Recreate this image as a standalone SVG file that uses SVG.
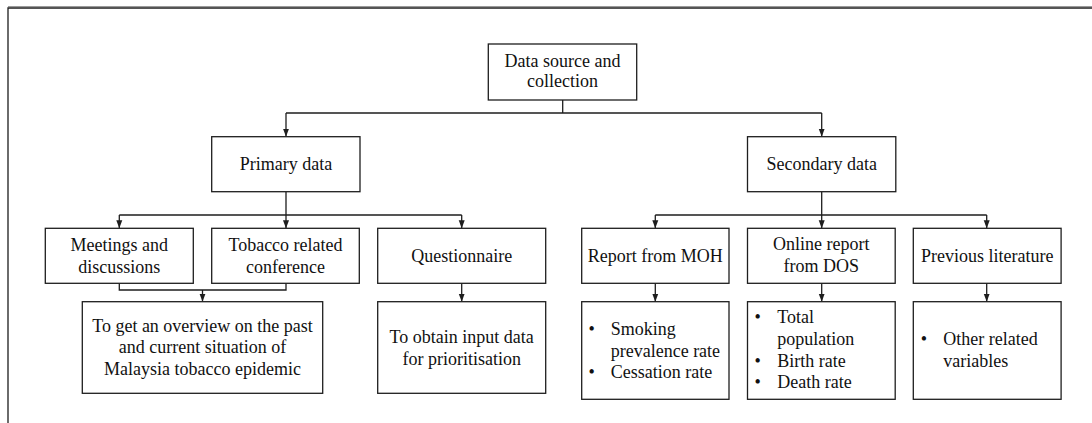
<svg xmlns="http://www.w3.org/2000/svg" width="1092" height="423" viewBox="0 0 1092 423">
  <style>
    .box { fill: #ffffff; stroke: #1e1e1e; stroke-width: 1.3; }
    .lbl { font-family: "Liberation Serif", "Times New Roman", serif; font-size: 18px; fill: #111111; }
    .c { text-anchor: middle; }
    .wire { fill: none; stroke: #1e1e1e; stroke-width: 1.3; }
    .arr { fill: none; stroke: #1e1e1e; stroke-width: 1.3; marker-end: url(#tip); }
  </style>
  <defs>
    <marker id="tip" markerUnits="userSpaceOnUse" markerWidth="8" markerHeight="8" viewBox="0 0 8 8" refX="8" refY="4" orient="auto">
      <path d="M0,1 L8,4 L0,7 Z" fill="#1e1e1e"/>
    </marker>
  </defs>
  <rect x="0" y="0" width="1092" height="423" fill="#ffffff"/>

  <!-- outer frame -->
  <g id="frame">
    <line x1="8" y1="6.5" x2="1092" y2="6.5" stroke="#9a9a9a" stroke-width="1"/>
    <path d="M8,423 V8 H1092" fill="none" stroke="#1e1e1e" stroke-width="1.3"/>
  </g>

  <!-- connectors -->
  <g id="connectors">
    <path class="wire" d="M562.7,100 V113 M286,113 H821.7"/>
    <path class="arr" d="M286,113 V136.7"/>
    <path class="arr" d="M821.7,113 V136.7"/>

    <path class="wire" d="M286,191.7 V215 M119.3,215 H461.7"/>
    <path class="arr" d="M119.3,215 V228.3"/>
    <path class="arr" d="M286,215 V228.3"/>
    <path class="arr" d="M461.7,215 V228.3"/>

    <path class="wire" d="M821.7,191.7 V215 M655.3,215 H986.7"/>
    <path class="arr" d="M655.3,215 V228.3"/>
    <path class="arr" d="M821.7,215 V228.3"/>
    <path class="arr" d="M986.7,215 V228.3"/>

    <path class="wire" d="M119.3,283.3 V290 H286 V283.3"/>
    <path class="arr" d="M202.5,290 V301.7"/>
    <path class="arr" d="M461.7,283.3 V301.7"/>
    <path class="arr" d="M655.3,283.3 V301.7"/>
    <path class="arr" d="M821.7,283.3 V301.7"/>
    <path class="arr" d="M986.7,283.3 V301.7"/>
  </g>

  <g id="root">
    <rect class="box" x="488.3" y="44" width="148.4" height="56"/>
    <text class="lbl c" x="562.5" y="66.7">Data source and</text>
    <text class="lbl c" x="562.5" y="87">collection</text>
  </g>

  <g id="primary">
    <rect class="box" x="211.7" y="136.7" width="148.3" height="55"/>
    <text class="lbl c" x="286" y="169.5">Primary data</text>
  </g>

  <g id="secondary">
    <rect class="box" x="747.5" y="136.7" width="148.3" height="55"/>
    <text class="lbl c" x="821.7" y="169.5">Secondary data</text>
  </g>

  <g id="meetings">
    <rect class="box" x="45.3" y="228.3" width="148" height="55"/>
    <text class="lbl c" x="119.3" y="251">Meetings and</text>
    <text class="lbl c" x="119.3" y="272.5">discussions</text>
  </g>

  <g id="conference">
    <rect class="box" x="211.7" y="228.3" width="147.6" height="55"/>
    <text class="lbl c" x="285.5" y="251">Tobacco related</text>
    <text class="lbl c" x="285.5" y="272.5">conference</text>
  </g>

  <g id="questionnaire">
    <rect class="box" x="377.7" y="228.3" width="168" height="55"/>
    <text class="lbl c" x="461.7" y="261.7">Questionnaire</text>
  </g>

  <g id="overview">
    <rect class="box" x="82.3" y="301.7" width="240.4" height="91.6"/>
    <text class="lbl c" x="202.5" y="331.7">To get an overview on the past</text>
    <text class="lbl c" x="202.5" y="353.3">and current situation of</text>
    <text class="lbl c" x="202.5" y="375">Malaysia tobacco epidemic</text>
  </g>

  <g id="input-data">
    <rect class="box" x="377.7" y="301.7" width="168" height="91.6"/>
    <text class="lbl c" x="461.7" y="343.3">To obtain input data</text>
    <text class="lbl c" x="461.7" y="365">for prioritisation</text>
  </g>

  <g id="moh">
    <rect class="box" x="581.7" y="228.3" width="147.3" height="55"/>
    <text class="lbl c" x="655.3" y="261.7">Report from MOH</text>
  </g>

  <g id="dos">
    <rect class="box" x="747.5" y="228.3" width="147.7" height="55"/>
    <text class="lbl c" x="821.3" y="250">Online report</text>
    <text class="lbl c" x="821.3" y="271.7">from DOS</text>
  </g>

  <g id="literature">
    <rect class="box" x="913.3" y="228.3" width="147.8" height="55"/>
    <text class="lbl c" x="987.2" y="261.7">Previous literature</text>
  </g>

  <g id="moh-items">
    <rect class="box" x="581.7" y="301.7" width="147.3" height="97.6"/>
    <text class="lbl" x="588.5" y="335">•</text>
    <text class="lbl" x="610.7" y="335">Smoking</text>
    <text class="lbl" x="610.7" y="356.7">prevalence rate</text>
    <text class="lbl" x="588.5" y="378.3">•</text>
    <text class="lbl" x="610.7" y="378.3">Cessation rate</text>
  </g>

  <g id="dos-items">
    <rect class="box" x="747.5" y="301.7" width="147.7" height="97.6"/>
    <text class="lbl" x="754.5" y="323.3">•</text>
    <text class="lbl" x="777.3" y="323.3">Total</text>
    <text class="lbl" x="777.3" y="345">population</text>
    <text class="lbl" x="754.5" y="366.7">•</text>
    <text class="lbl" x="777.3" y="366.7">Birth rate</text>
    <text class="lbl" x="754.5" y="388.3">•</text>
    <text class="lbl" x="777.3" y="388.3">Death rate</text>
  </g>

  <g id="literature-items">
    <rect class="box" x="913.3" y="301.7" width="147.8" height="97.6"/>
    <text class="lbl" x="920.8" y="345">•</text>
    <text class="lbl" x="943.3" y="345">Other related</text>
    <text class="lbl" x="943.3" y="366.7">variables</text>
  </g>
</svg>
